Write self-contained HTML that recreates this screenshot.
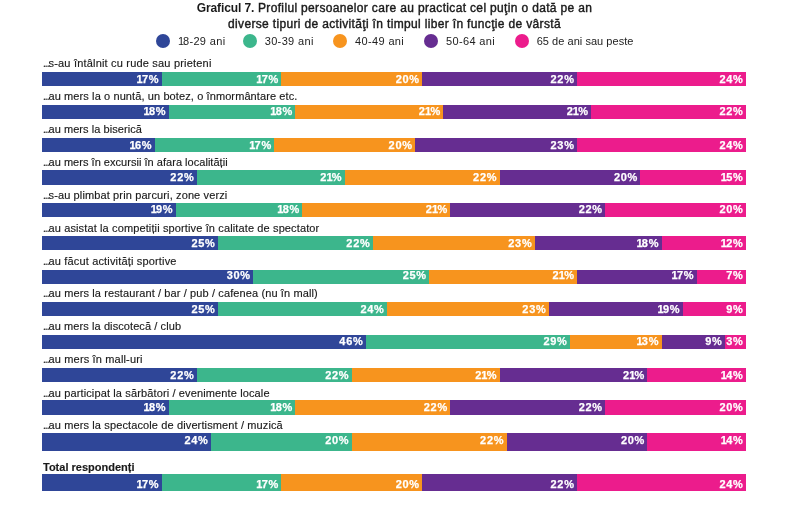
<!DOCTYPE html>
<html><head><meta charset="utf-8"><style>
html,body{margin:0;padding:0;background:#fff;}
body{width:800px;height:505px;position:relative;overflow:hidden;font-family:"Liberation Sans",sans-serif;color:#1a1a1a;}
#w{position:absolute;left:0;top:0;width:800px;height:505px;will-change:transform;}
.t{position:absolute;left:0;width:789px;text-align:center;font-size:12px;line-height:16px;letter-spacing:0.34px;white-space:nowrap;-webkit-text-stroke:0.4px #1a1a1a;}
.t b{-webkit-text-stroke:0;font-size:12px;letter-spacing:-0.1px;}
.lt i.n{font-style:normal;letter-spacing:-1.2px;margin-left:-1px;}
.lc{position:absolute;width:14px;height:14px;border-radius:50%;}
.lt{position:absolute;font-size:11px;line-height:12px;white-space:nowrap;color:#222;letter-spacing:0.35px;}
.lab{position:absolute;left:43px;font-size:11px;line-height:12px;white-space:nowrap;color:#1a1a1a;letter-spacing:0.2px;-webkit-text-stroke:0.15px #1a1a1a;}
.el{font-size:10px;letter-spacing:-0.95px;}
.bar{position:absolute;left:42px;width:704px;}
.seg{position:absolute;top:0;bottom:0;}
.pct i{font-style:normal;letter-spacing:-0.7px;margin-left:-0.7px;}
.pct{position:absolute;right:2.4px;top:0px;color:#fff;font-weight:bold;font-size:11px;line-height:10px;letter-spacing:0.7px;-webkit-text-stroke:0.25px #fff;}
</style></head><body><div id="w">

<div class="t" style="top:0px"><b>Graficul 7.</b> Profilul persoanelor care au practicat cel puţin o dată pe an</div>
<div class="t" style="top:16px">diverse tipuri de activităţi în timpul liber în funcţie de vârstă</div>
<div class="lc" style="left:156px;top:34px;background:#2f4698"></div>
<div class="lt" style="left:179px;top:35px"><i class=n>1</i>8-29 ani</div>
<div class="lc" style="left:242.5px;top:34px;background:#3cb68c"></div>
<div class="lt" style="left:264.7px;top:35px">30-39 ani</div>
<div class="lc" style="left:333.2px;top:34px;background:#f7941e"></div>
<div class="lt" style="left:355.1px;top:35px">40-49 ani</div>
<div class="lc" style="left:423.8px;top:34px;background:#662d91"></div>
<div class="lt" style="left:446px;top:35px">50-64 ani</div>
<div class="lc" style="left:514.5px;top:34px;background:#ec1c8c"></div>
<div class="lt" style="left:536.7px;top:35px"><span style="letter-spacing:0.04px">65 de ani sau peste</span></div>
<div class="lab" style="top:57px;letter-spacing:0.191px"><span class="el">...</span>s-au întâlnit cu rude sau prieteni</div>
<div class="bar" style="top:72px;height:14px">
<div class="seg" style="left:0.0px;width:119.68px;background:#2f4698"><span class="pct" style="top:2px"><i>1</i>7%</span></div>
<div class="seg" style="left:119.68px;width:119.68px;background:#3cb68c"><span class="pct" style="top:2px"><i>1</i>7%</span></div>
<div class="seg" style="left:239.36px;width:140.8px;background:#f7941e"><span class="pct" style="top:2px">20%</span></div>
<div class="seg" style="left:380.16px;width:154.88px;background:#662d91"><span class="pct" style="top:2px">22%</span></div>
<div class="seg" style="left:535.04px;width:168.96px;background:#ec1c8c"><span class="pct" style="top:2px">24%</span></div>
</div>
<div class="lab" style="top:90px;letter-spacing:0.103px"><span class="el">...</span>au mers la o nuntă, un botez, o înmormântare etc.</div>
<div class="bar" style="top:105px;height:14px">
<div class="seg" style="left:0.0px;width:126.72px;background:#2f4698"><span class="pct" style="top:1px"><i>1</i>8%</span></div>
<div class="seg" style="left:126.72px;width:126.72px;background:#3cb68c"><span class="pct" style="top:1px"><i>1</i>8%</span></div>
<div class="seg" style="left:253.44px;width:147.84px;background:#f7941e"><span class="pct" style="top:1px">2<i>1</i>%</span></div>
<div class="seg" style="left:401.28px;width:147.84px;background:#662d91"><span class="pct" style="top:1px">2<i>1</i>%</span></div>
<div class="seg" style="left:549.12px;width:154.88px;background:#ec1c8c"><span class="pct" style="top:1px">22%</span></div>
</div>
<div class="lab" style="top:123px;letter-spacing:0.055px"><span class="el">...</span>au mers la biserică</div>
<div class="bar" style="top:138px;height:14px">
<div class="seg" style="left:0.0px;width:112.64px;background:#2f4698"><span class="pct" style="top:2px"><i>1</i>6%</span></div>
<div class="seg" style="left:112.64px;width:119.68px;background:#3cb68c"><span class="pct" style="top:2px"><i>1</i>7%</span></div>
<div class="seg" style="left:232.32px;width:140.8px;background:#f7941e"><span class="pct" style="top:2px">20%</span></div>
<div class="seg" style="left:373.12px;width:161.92px;background:#662d91"><span class="pct" style="top:2px">23%</span></div>
<div class="seg" style="left:535.04px;width:168.96px;background:#ec1c8c"><span class="pct" style="top:2px">24%</span></div>
</div>
<div class="lab" style="top:156px;letter-spacing:0.031px"><span class="el">...</span>au mers în excursii în afara localității</div>
<div class="bar" style="top:170px;height:15px">
<div class="seg" style="left:0.0px;width:154.88px;background:#2f4698"><span class="pct" style="top:2px">22%</span></div>
<div class="seg" style="left:154.88px;width:147.84px;background:#3cb68c"><span class="pct" style="top:2px">2<i>1</i>%</span></div>
<div class="seg" style="left:302.72px;width:154.88px;background:#f7941e"><span class="pct" style="top:2px">22%</span></div>
<div class="seg" style="left:457.6px;width:140.8px;background:#662d91"><span class="pct" style="top:2px">20%</span></div>
<div class="seg" style="left:598.4px;width:105.6px;background:#ec1c8c"><span class="pct" style="top:2px"><i>1</i>5%</span></div>
</div>
<div class="lab" style="top:189px;letter-spacing:0.126px"><span class="el">...</span>s-au plimbat prin parcuri, zone verzi</div>
<div class="bar" style="top:203px;height:14px">
<div class="seg" style="left:0.0px;width:133.76px;background:#2f4698"><span class="pct" style="top:1px"><i>1</i>9%</span></div>
<div class="seg" style="left:133.76px;width:126.72px;background:#3cb68c"><span class="pct" style="top:1px"><i>1</i>8%</span></div>
<div class="seg" style="left:260.48px;width:147.84px;background:#f7941e"><span class="pct" style="top:1px">2<i>1</i>%</span></div>
<div class="seg" style="left:408.32px;width:154.88px;background:#662d91"><span class="pct" style="top:1px">22%</span></div>
<div class="seg" style="left:563.2px;width:140.8px;background:#ec1c8c"><span class="pct" style="top:1px">20%</span></div>
</div>
<div class="lab" style="top:222px;letter-spacing:0.127px"><span class="el">...</span>au asistat la competiții sportive în calitate de spectator</div>
<div class="bar" style="top:236px;height:14px">
<div class="seg" style="left:0.0px;width:176.0px;background:#2f4698"><span class="pct" style="top:2px">25%</span></div>
<div class="seg" style="left:176.0px;width:154.88px;background:#3cb68c"><span class="pct" style="top:2px">22%</span></div>
<div class="seg" style="left:330.88px;width:161.92px;background:#f7941e"><span class="pct" style="top:2px">23%</span></div>
<div class="seg" style="left:492.8px;width:126.72px;background:#662d91"><span class="pct" style="top:2px"><i>1</i>8%</span></div>
<div class="seg" style="left:619.52px;width:84.48px;background:#ec1c8c"><span class="pct" style="top:2px"><i>1</i>2%</span></div>
</div>
<div class="lab" style="top:255px;letter-spacing:0.164px"><span class="el">...</span>au făcut activități sportive</div>
<div class="bar" style="top:270px;height:14px">
<div class="seg" style="left:0.0px;width:211.2px;background:#2f4698"><span class="pct" style="top:0px">30%</span></div>
<div class="seg" style="left:211.2px;width:176.0px;background:#3cb68c"><span class="pct" style="top:0px">25%</span></div>
<div class="seg" style="left:387.2px;width:147.84px;background:#f7941e"><span class="pct" style="top:0px">2<i>1</i>%</span></div>
<div class="seg" style="left:535.04px;width:119.68px;background:#662d91"><span class="pct" style="top:0px"><i>1</i>7%</span></div>
<div class="seg" style="left:654.72px;width:49.28px;background:#ec1c8c"><span class="pct" style="top:0px">7%</span></div>
</div>
<div class="lab" style="top:287px;letter-spacing:0.115px"><span class="el">...</span>au mers la restaurant / bar / pub / cafenea (nu în mall)</div>
<div class="bar" style="top:302px;height:14px">
<div class="seg" style="left:0.0px;width:176.0px;background:#2f4698"><span class="pct" style="top:2px">25%</span></div>
<div class="seg" style="left:176.0px;width:168.96px;background:#3cb68c"><span class="pct" style="top:2px">24%</span></div>
<div class="seg" style="left:344.96px;width:161.92px;background:#f7941e"><span class="pct" style="top:2px">23%</span></div>
<div class="seg" style="left:506.88px;width:133.76px;background:#662d91"><span class="pct" style="top:2px"><i>1</i>9%</span></div>
<div class="seg" style="left:640.64px;width:63.36px;background:#ec1c8c"><span class="pct" style="top:2px">9%</span></div>
</div>
<div class="lab" style="top:320px;letter-spacing:0.089px"><span class="el">...</span>au mers la discotecă / club</div>
<div class="bar" style="top:335px;height:14px">
<div class="seg" style="left:0.0px;width:323.84px;background:#2f4698"><span class="pct" style="top:1px">46%</span></div>
<div class="seg" style="left:323.84px;width:204.16px;background:#3cb68c"><span class="pct" style="top:1px">29%</span></div>
<div class="seg" style="left:528.0px;width:91.52px;background:#f7941e"><span class="pct" style="top:1px"><i>1</i>3%</span></div>
<div class="seg" style="left:619.52px;width:63.36px;background:#662d91"><span class="pct" style="top:1px">9%</span></div>
<div class="seg" style="left:682.88px;width:21.12px;background:#ec1c8c"><span class="pct" style="top:1px">3%</span></div>
</div>
<div class="lab" style="top:353px;letter-spacing:0.161px"><span class="el">...</span>au mers în mall-uri</div>
<div class="bar" style="top:368px;height:14px">
<div class="seg" style="left:0.0px;width:154.88px;background:#2f4698"><span class="pct" style="top:2px">22%</span></div>
<div class="seg" style="left:154.88px;width:154.88px;background:#3cb68c"><span class="pct" style="top:2px">22%</span></div>
<div class="seg" style="left:309.76px;width:147.84px;background:#f7941e"><span class="pct" style="top:2px">2<i>1</i>%</span></div>
<div class="seg" style="left:457.6px;width:147.84px;background:#662d91"><span class="pct" style="top:2px">2<i>1</i>%</span></div>
<div class="seg" style="left:605.44px;width:98.56px;background:#ec1c8c"><span class="pct" style="top:2px"><i>1</i>4%</span></div>
</div>
<div class="lab" style="top:387px;letter-spacing:0.129px"><span class="el">...</span>au participat la sărbători / evenimente locale</div>
<div class="bar" style="top:400px;height:15px">
<div class="seg" style="left:0.0px;width:126.72px;background:#2f4698"><span class="pct" style="top:2px"><i>1</i>8%</span></div>
<div class="seg" style="left:126.72px;width:126.72px;background:#3cb68c"><span class="pct" style="top:2px"><i>1</i>8%</span></div>
<div class="seg" style="left:253.44px;width:154.88px;background:#f7941e"><span class="pct" style="top:2px">22%</span></div>
<div class="seg" style="left:408.32px;width:154.88px;background:#662d91"><span class="pct" style="top:2px">22%</span></div>
<div class="seg" style="left:563.2px;width:140.8px;background:#ec1c8c"><span class="pct" style="top:2px">20%</span></div>
</div>
<div class="lab" style="top:419px;letter-spacing:0.124px"><span class="el">...</span>au mers la spectacole de divertisment / muzică</div>
<div class="bar" style="top:433px;height:18px">
<div class="seg" style="left:0.0px;width:168.96px;background:#2f4698"><span class="pct" style="top:2px">24%</span></div>
<div class="seg" style="left:168.96px;width:140.8px;background:#3cb68c"><span class="pct" style="top:2px">20%</span></div>
<div class="seg" style="left:309.76px;width:154.88px;background:#f7941e"><span class="pct" style="top:2px">22%</span></div>
<div class="seg" style="left:464.64px;width:140.8px;background:#662d91"><span class="pct" style="top:2px">20%</span></div>
<div class="seg" style="left:605.44px;width:98.56px;background:#ec1c8c"><span class="pct" style="top:2px"><i>1</i>4%</span></div>
</div>
<div class="lab" style="top:461px;font-weight:bold;letter-spacing:0">Total respondenți</div>
<div class="bar" style="top:474px;height:17px">
<div class="seg" style="left:0.0px;width:119.68px;background:#2f4698"><span class="pct" style="top:5px"><i>1</i>7%</span></div>
<div class="seg" style="left:119.68px;width:119.68px;background:#3cb68c"><span class="pct" style="top:5px"><i>1</i>7%</span></div>
<div class="seg" style="left:239.36px;width:140.8px;background:#f7941e"><span class="pct" style="top:5px">20%</span></div>
<div class="seg" style="left:380.16px;width:154.88px;background:#662d91"><span class="pct" style="top:5px">22%</span></div>
<div class="seg" style="left:535.04px;width:168.96px;background:#ec1c8c"><span class="pct" style="top:5px">24%</span></div>
</div>
</div></body></html>
